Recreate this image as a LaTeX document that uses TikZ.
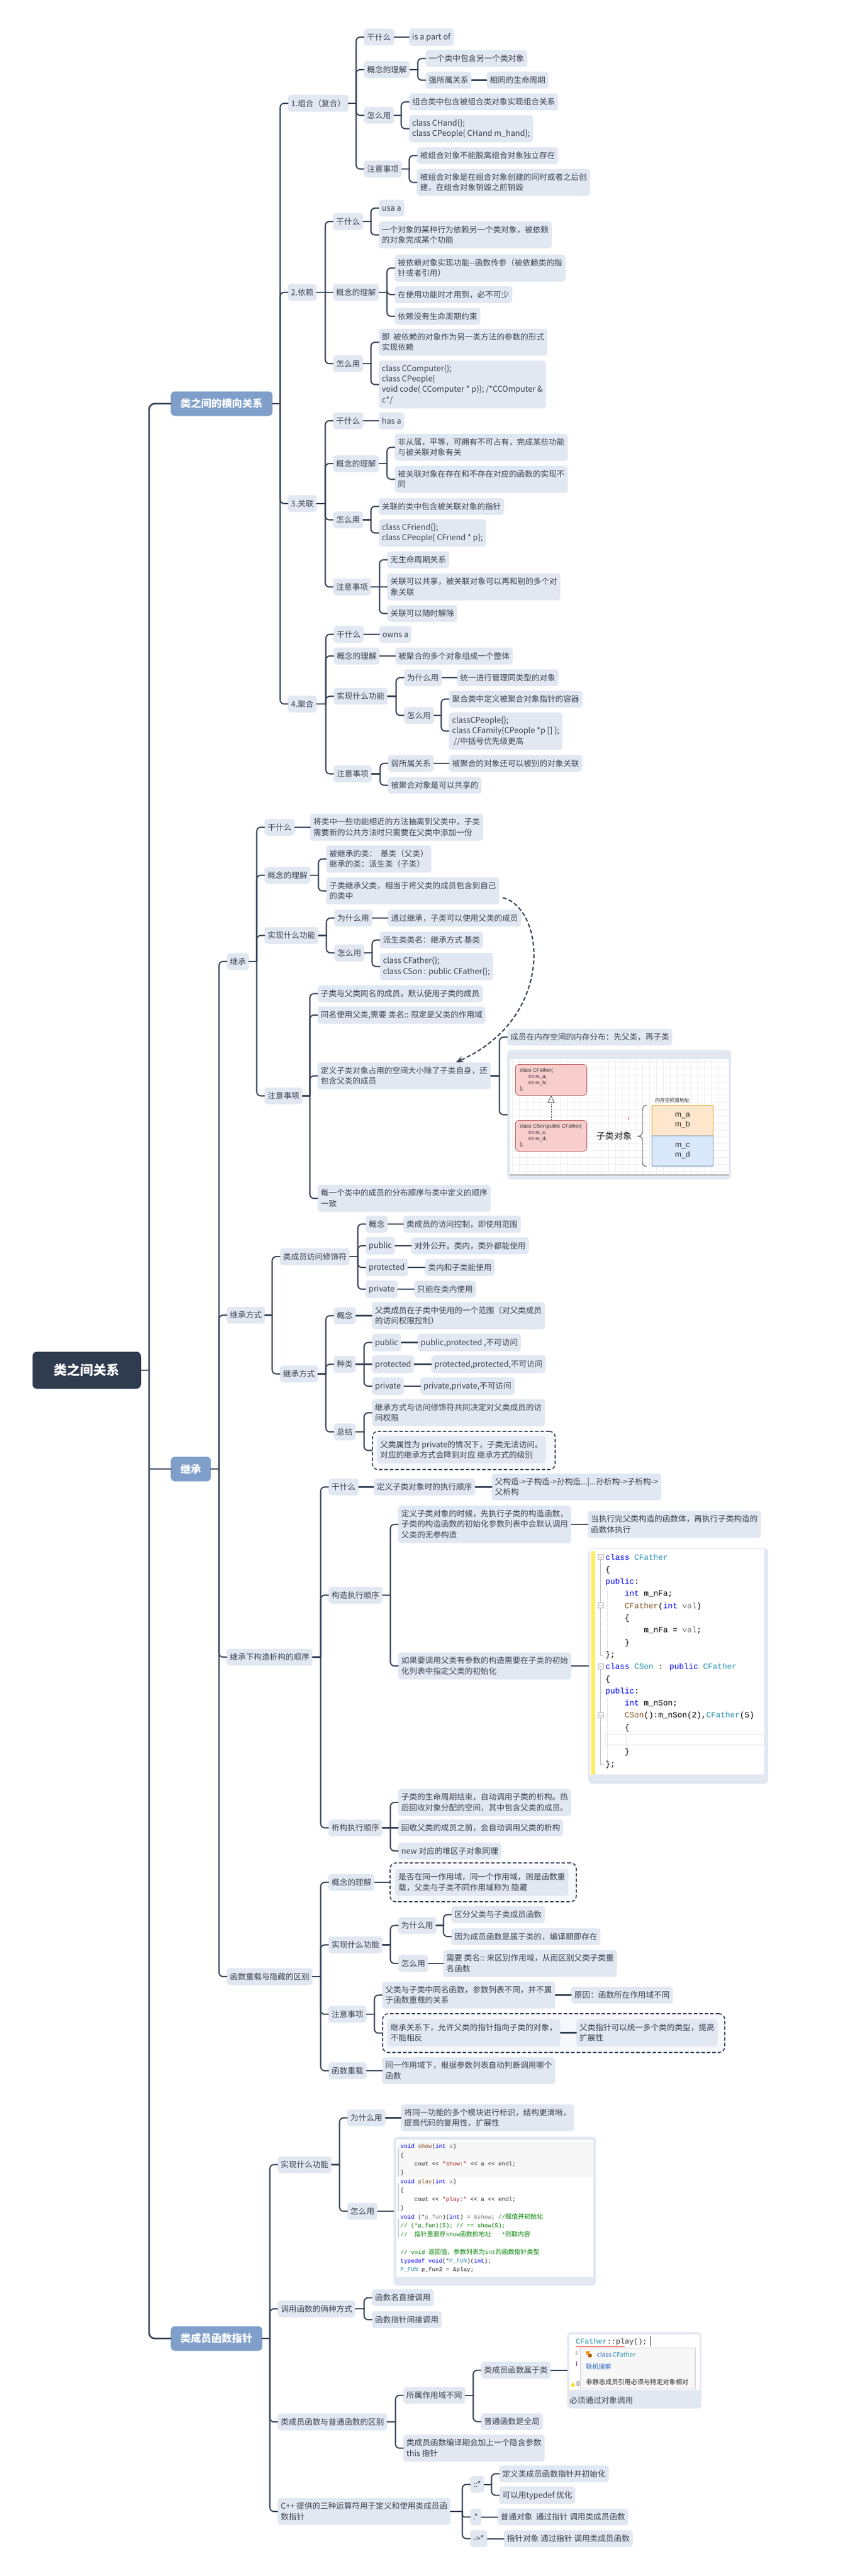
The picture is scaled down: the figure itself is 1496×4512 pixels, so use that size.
\documentclass[tikz,border=0pt]{standalone}
\usepackage{fontspec}
\setmainfont{Noto Sans CJK SC}
\newfontfamily\monof{Liberation Mono}
\newfontfamily\lsans{Liberation Sans}
\newfontfamily\cjk{Noto Sans CJK SC}
\usetikzlibrary{calc,arrows.meta,decorations.pathmorphing}
\definecolor{nodefill}{HTML}{E2E8F1}
\definecolor{mainfill}{HTML}{7F9FCA}
\definecolor{rootfill}{HTML}{2F3B4F}
\definecolor{linec}{HTML}{354256}
\definecolor{txt}{HTML}{3A4152}
\definecolor{dfill}{HTML}{F6F8FB}
\definecolor{kwc}{HTML}{0000FF}
\definecolor{tyc}{HTML}{2B91AF}
\definecolor{fnc}{HTML}{8A5A2B}
\definecolor{pac}{HTML}{808080}
\definecolor{stc}{HTML}{A31515}
\definecolor{cmc}{HTML}{008000}
\definecolor{redf}{HTML}{F8CECC}
\definecolor{redb}{HTML}{B85450}
\definecolor{orangef}{HTML}{FFE6CC}
\definecolor{orangeb}{HTML}{D79B00}
\definecolor{bluef}{HTML}{DAE8FC}
\definecolor{blueb}{HTML}{6C8EBF}
\definecolor{popblue}{HTML}{1F5FBF}
\definecolor{codeyellow}{HTML}{FFEF5C}
\definecolor{gridc}{HTML}{EDEDED}
\newcommand\fnode{\fontsize{13.9}{18.3}\selectfont}
\newcommand\fmain{\fontsize{18}{22}\selectfont\bfseries}
\newcommand\froot{\fontsize{23}{28}\selectfont\bfseries}
\newcommand\mystrut{\rule[-1.9pt]{0pt}{14.1pt}}
\newcommand\ckw[1]{\textcolor{kwc}{#1}}
\newcommand\cty[1]{\textcolor{tyc}{#1}}
\newcommand\cfn[1]{\textcolor{fnc}{#1}}
\newcommand\cpa[1]{\textcolor{pac}{#1}}
\newcommand\cst[1]{\textcolor{stc}{#1}}
\newcommand\ccm[1]{\textcolor{cmc}{#1}}
\newcommand\cjkc[1]{{\cjk\fontsize{11}{14}\selectfont #1}}
\newcommand\tbr[3][13.5]{%
  \path (#3.west) ++(-#1,0) coordinate (tT);
  \draw[conn] (#2.east) -- (#2.east -| tT);
  \draw[conn, rounded corners=7pt] (#2.east -| tT) |- (#3.west);}
\newcommand\tbrx[2]{%
  \path (#2.west) ++(-13.5,0) coordinate (tT);
  \draw[conn] (#1.east) -- (#1.east -| tT);
  \draw[conn, rounded corners=3pt] (#1.east -| tT) |- (#2.west);}
\newcommand\tbrs[2]{\draw[conn] (#1.east) -- (#2.west);}
\tikzset{
  nd/.style={fill=nodefill, rounded corners=5pt, text=txt, font=\fnode, inner xsep=5.5pt, inner ysep=7.7pt, align=left, anchor=west, execute at begin node=\mystrut, execute at end node=\mystrut},
  mn/.style={fill=mainfill, rounded corners=7pt, text=white, font=\fmain, inner xsep=17pt, inner ysep=0pt, minimum height=43pt, anchor=west},
  rt/.style={fill=rootfill, rounded corners=8pt, text=white, font=\froot, minimum width=190pt, minimum height=65pt, anchor=east},
  cont/.style={fill=nodefill, rounded corners=7pt, inner sep=0pt, anchor=west},
  conn/.style={draw=linec, line width=2.1pt, line cap=round},
  mconn/.style={draw=linec, line width=2.8pt, line cap=round},
  dbox/.style={draw=linec, dash pattern=on 6pt off 3.5pt, line width=1.8pt, fill=dfill, rounded corners=10pt, anchor=west, inner sep=0pt},
  cA/.style={font=\monof\fontsize{14}{17}\selectfont, anchor=base west, inner sep=0pt, text=black},
  cB/.style={font=\monof\fontsize{10.2}{12}\selectfont, anchor=base west, inner sep=0pt, text=black!85},
  darr/.style={draw=linec, line width=2.2pt, dash pattern=on 7pt off 4pt, -{Stealth[length=13pt,width=11pt]}},
  drawio/.style={rounded corners=6pt, line width=0.8pt, text width=109pt, align=left, inner xsep=8pt, inner ysep=0pt, minimum height=54pt, font=\lsans\fontsize{8.8}{10.7}\selectfont, text=black!85, anchor=north west},
  membox/.style={line width=0.8pt, minimum width=107pt, minimum height=53pt, anchor=north west, inner sep=0pt, align=center, font=\lsans\fontsize{13.5}{17}\selectfont, text=black!85},
  ptxt/.style={anchor=west, inner sep=0pt, font=\fontsize{11}{13}\selectfont},
}
\begin{document}
\begin{tikzpicture}[x=1pt,y=-1pt]
\useasboundingbox (0,0) rectangle (1496,4512);
\fill[white] (0,0) rectangle (1496,4512);

% ---------- root and main nodes
\node[rt] (r) at (247,2400) {类之间关系};
\node[mn] (m1) at (299,707) {类之间的横向关系};
\node[mn] (m2) at (299,2573) {继承};
\node[mn] (m3) at (299,4096) {类成员函数指针};

% ---------- 类之间的横向关系
\node[nd] (a1) at (504,181) {1.组合（复合）};
\node[nd] (a2) at (504,512) {2.依赖};
\node[nd] (a3) at (504,882) {3.关联};
\node[nd] (a4) at (504,1233) {4.聚合};

\node[nd] (a1a) at (637,65) {干什么};
\node[nd] (a1a1) at (716,65) {is a part of};
\node[nd] (a1b) at (637,122) {概念的理解};
\node[nd] (a1b1) at (745,102.5) {一个类中包含另一个类对象};
\node[nd] (a1b2) at (745,140.5) {强所属关系};
\node[nd] (a1b2a) at (852,140.5) {相同的生命周期};
\node[nd] (a1c) at (637,202) {怎么用};
\node[nd] (a1c1) at (716,178.5) {组合类中包含被组合类对象实现组合关系};
\node[nd] (a1c2) at (716,225.5) {class CHand\{\};\\class CPeople\{ CHand m\_hand\};};
\node[nd] (a1d) at (637,296) {注意事项};
\node[nd] (a1d1) at (730,272.5) {被组合对象不能脱离组合对象独立存在};
\node[nd] (a1d2) at (730,319.5) {被组合对象是在组合对象创建的同时或者之后创\\建，在组合对象销毁之前销毁};

\node[nd] (a2a) at (583,388) {干什么};
\node[nd] (a2a1) at (663,364.5) {usa a};
\node[nd] (a2a2) at (663,411.5) {一个对象的某种行为依赖另一个类对象，被依赖\\的对象完成某个功能};
\node[nd] (a2b) at (583,512) {概念的理解};
\node[nd] (a2b1) at (691,469.5) {被依赖对象实现功能-{}-函数传参（被依赖类的指\\针或者引用）};
\node[nd] (a2b2) at (691,516) {在使用功能时才用到，必不可少};
\node[nd] (a2b3) at (691,554) {依赖没有生命周期约束};
\node[nd] (a2c) at (583,637) {怎么用};
\node[nd] (a2c1) at (663,599.5) {即\ \ 被依赖的对象作为另一类方法的参数的形式\\实现依赖};
\node[nd] (a2c2) at (663,673.5) {class CComputer\{\};\\class CPeople\{\\void code( CComputer * p)\}; /*CCOmputer \&\\c*/};

\node[nd] (a3a) at (583,737) {干什么};
\node[nd] (a3a1) at (663,737) {has a};
\node[nd] (a3b) at (583,812) {概念的理解};
\node[nd] (a3b1) at (691,783.5) {非从属，平等，可拥有不可占有，完成某些功能\\与被关联对象有关};
\node[nd] (a3b2) at (691,839.5) {被关联对象在存在和不存在对应的函数的实现不\\同};
\node[nd] (a3c) at (583,910.5) {怎么用};
\node[nd] (a3c1) at (663,887) {关联的类中包含被关联对象的指针};
\node[nd] (a3c2) at (663,933.5) {class CFriend\{\};\\class CPeople\{ CFriend * p\};};
\node[nd] (a3d) at (583,1028) {注意事项};
\node[nd] (a3d1) at (678,980.5) {无生命周期关系};
\node[nd] (a3d2) at (678,1028) {关联可以共享，被关联对象可以再和别的多个对\\象关联};
\node[nd] (a3d3) at (678,1074.5) {关联可以随时解除};

\node[nd] (a4a) at (584,1111) {干什么};
\node[nd] (a4a1) at (664,1111) {owns a};
\node[nd] (a4b) at (584,1149) {概念的理解};
\node[nd] (a4b1) at (692,1149) {被聚合的多个对象组成一个整体};
\node[nd] (a4c) at (584,1219.5) {实现什么功能};
\node[nd] (a4c1) at (707,1187) {为什么用};
\node[nd] (a4c1a) at (800,1187) {统一进行管理同类型的对象};
\node[nd] (a4c2) at (707,1253) {怎么用};
\node[nd] (a4c2a) at (786,1224.5) {聚合类中定义被聚合对象指针的容器};
\node[nd] (a4c2b) at (786,1280.5) {classCPeople\{\};\\class CFamily\{CPeople *p [] \};\\\hspace*{3pt}//中括号优先级更高};
\node[nd] (a4d) at (584,1355.5) {注意事项};
\node[nd] (a4d1) at (679,1337) {弱所属关系};
\node[nd] (a4d1a) at (786,1337) {被聚合的对象还可以被别的对象关联};
\node[nd] (a4d2) at (679,1375.5) {被聚合对象是可以共享的};

% ---------- 继承
\node[nd] (b1) at (397,1684) {继承};
\node[nd] (b2) at (397,2303.5) {继承方式};
\node[nd] (b3) at (397,2902.5) {继承下构造析构的顺序};
\node[nd] (b4) at (397,3462) {函数重载与隐藏的区别};

\node[nd] (b1a) at (463,1449) {干什么};
\node[nd] (b1a1) at (543,1449) {将类中一些功能相近的方法抽离到父类中，子类\\需要新的公共方法时只需要在父类中添加一份};
\node[nd] (b1b) at (463,1533) {概念的理解};
\node[nd] (b1b1) at (571,1504.5) {被继承的类：\ \ 基类（父类）\\继承的类：派生类（子类）};
\node[nd] (b1b2) at (571,1560.5) {子类继承父类，相当于将父类的成员包含到自己\\的类中};
\node[nd] (b1c) at (463,1638.5) {实现什么功能};
\node[nd] (b1c1) at (585,1608) {为什么用};
\node[nd] (b1c1a) at (679,1608) {通过继承，子类可以使用父类的成员};
\node[nd] (b1c2) at (585,1669) {怎么用};
\node[nd] (b1c2a) at (665,1646.5) {派生类类名：继承方式 基类};
\node[nd] (b1c2b) at (665,1693) {class CFather\{\};\\class CSon : public CFather\{\};};
\node[nd] (b1d) at (463,1919.5) {注意事项};
\node[nd] (b1d1) at (556,1740.5) {子类与父类同名的成员，默认使用子类的成员};
\node[nd] (b1d2) at (556,1778) {同名使用父类,需要 类名:: 限定是父类的作用域};
\node[nd] (b1d3) at (556,1884.5) {定义子类对象占用的空间大小除了子类自身，还\\包含父类的成员};
\node[nd] (b1d4) at (556,2099) {每一个类中的成员的分布顺序与类中定义的顺序\\一致};
\node[nd] (b1d3a) at (888,1816.5) {成员在内存空间的内存分布：先父类，再子类};
\node[cont, minimum width=392pt, minimum height=227pt] (img) at (888,1952.5) {};

\node[nd] (b2a) at (490,2201) {类成员访问修饰符};
\node[nd] (b2a1) at (640,2144) {概念};
\node[nd] (b2a1a) at (706,2144) {类成员的访问控制，即使用范围};
\node[nd] (b2a2) at (640,2182) {public};
\node[nd] (b2a2a) at (720,2182) {对外公开。类内，类外都能使用};
\node[nd] (b2a3) at (640,2220) {protected};
\node[nd] (b2a3a) at (744,2220) {类内和子类能使用};
\node[nd] (b2a4) at (640,2258) {private};
\node[nd] (b2a4a) at (725,2258) {只能在类内使用};
\node[nd] (b2b) at (490,2406.5) {继承方式};
\node[nd] (b2b1) at (584,2304.5) {概念};
\node[nd] (b2b1a) at (651,2304.5) {父类成员在子类中使用的一个范围（对父类成员\\的访问权限控制）};
\node[nd] (b2b2) at (584,2389.5) {种类};
\node[nd] (b2b2a) at (651,2351.5) {public};
\node[nd] (b2b2a1) at (731,2351.5) {public,protected ,不可访问};
\node[nd] (b2b2b) at (651,2389.5) {protected};
\node[nd] (b2b2b1) at (755,2389.5) {protected,protected,不可访问};
\node[nd] (b2b2c) at (651,2428) {private};
\node[nd] (b2b2c1) at (736,2428) {private,private,不可访问};
\node[nd] (b2b3) at (584,2508) {总结};
\node[nd] (b2b3a) at (651,2474.5) {继承方式与访问修饰符共同决定对父类成员的访\\问权限};
\node[dbox, minimum width=320pt, minimum height=67pt] (b2b3d) at (651,2540.5) {};
\node[nd] (b2b3b) at (660,2539.5) {父类属性为 private的情况下，子类无法访问。\\对应的继承方式会降到对应 继承方式的级别};

\node[nd] (b3a) at (575,2604.5) {干什么};
\node[nd] (b3a1) at (654,2604.5) {定义子类对象时的执行顺序};
\node[nd] (b3a2) at (861,2604.5) {父构造->子构造->孙构造...|...孙析构->子析构->\\父析构};
\node[nd] (b3b) at (575,2794) {构造执行顺序};
\node[nd] (b3b1) at (697,2670) {定义子类对象的时候，先执行子类的构造函数，\\子类的构造函数的初始化参数列表中会默认调用\\父类的无参构造};
\node[nd] (b3b1a) at (1029,2670) {当执行完父类构造的函数体，再执行子类构造的\\函数体执行};
\node[nd] (b3b2) at (697,2918) {如果要调用父类有参数的构造需要在子类的初始\\化列表中指定父类的初始化};
\node[cont, minimum width=315pt, minimum height=413pt] (code1) at (1030,2918) {};
\node[nd] (b3c) at (575,3201.5) {析构执行顺序};
\node[nd] (b3c1) at (697,3157) {子类的生命周期结束，自动调用子类的析构。热\\后回收对象分配的空间，其中包含父类的成员。};
\node[nd] (b3c2) at (697,3201.5) {回收父类的成员之前，会自动调用父类的析构};
\node[nd] (b3c3) at (697,3242) {new 对应的堆区子对象同理};

\node[nd] (b4a) at (575,3297) {概念的理解};
\node[dbox, minimum width=326pt, minimum height=68pt] (b4ad) at (682,3297) {};
\node[nd] (b4a1) at (692,3297) {是否在同一作用域，同一个作用域，则是函数重\\载，父类与子类不同作用域称为 隐藏};
\node[nd] (b4b) at (575,3406.5) {实现什么功能};
\node[nd] (b4b1) at (697,3372.5) {为什么用};
\node[nd] (b4b1a) at (790,3353.5) {区分父类与子类成员函数};
\node[nd] (b4b1b) at (790,3392) {因为成员函数是属于类的，编译期即存在};
\node[nd] (b4b2) at (697,3439) {怎么用};
\node[nd] (b4b2a) at (776,3439) {需要 类名:: 来区别作用域，从而区别父类子类重\\名函数};
\node[nd] (b4c) at (575,3528) {注意事项};
\node[nd] (b4c1) at (669,3494.5) {父类与子类中同名函数，参数列表不同，并不属\\于函数重载的关系};
\node[nd] (b4c1a) at (1000,3494.5) {原因：函数所在作用域不同};
\node[dbox, minimum width=599pt, minimum height=68pt] (b4cd) at (669,3561) {};
\node[nd] (b4c2) at (678,3560.5) {继承关系下，允许父类的指针指向子类的对象，\\不能相反};
\node[nd] (b4c2a) at (1009,3560.5) {父类指针可以统一多个类的类型，提高\\扩展性};
\node[nd] (b4d) at (575,3627) {函数重载};
\node[nd] (b4d1) at (669,3627) {同一作用域下，根据参数列表自动判断调用哪个\\函数};

% ---------- 类成员函数指针
\node[nd] (c1) at (486,3791.5) {实现什么功能};
\node[nd] (c1a) at (608,3709.5) {为什么用};
\node[nd] (c1a1) at (702,3709.5) {将同一功能的多个模块进行标识，结构更清晰，\\提高代码的复用性，扩展性};
\node[nd] (c1b) at (608,3873) {怎么用};
\node[cont, minimum width=354pt, minimum height=261pt] (code2) at (689,3873) {};
\node[nd] (c2) at (486,4044) {调用函数的俩种方式};
\node[nd] (c2a) at (651,4024.5) {函数名直接调用};
\node[nd] (c2b) at (651,4063) {函数指针间接调用};
\node[nd] (c3) at (486,4242) {类成员函数与普通函数的区别};
\node[nd] (c3a) at (706,4195.5) {所属作用域不同};
\node[nd] (c3a1) at (842,4151.5) {类成员函数属于类};
\node[cont, minimum width=235pt, minimum height=134pt] (pop) at (993,4151.5) {};
\node[nd] (c3a2) at (842,4241.5) {普通函数是全局};
\node[nd] (c3b) at (706,4288) {类成员函数编译期会加上一个隐含参数\\this 指针};
\node[nd] (c4) at (486,4399) {C++ 提供的三种运算符用于定义和使用类成员函\\数指针};
\node[nd] (c4a) at (823,4351.5) {::*};
\node[nd] (c4a1) at (874,4333) {定义类成员函数指针并初始化};
\node[nd] (c4a2) at (874,4370.5) {可以用typedef 优化};
\node[nd] (c4b) at (823,4408.5) {.*};
\node[nd] (c4b1) at (871,4408.5) {普通对象\ \ 通过指针 调用类成员函数};
\node[nd] (c4c) at (823,4446.5) {->*};
\node[nd] (c4c1) at (882,4446.5) {指针对象 通过指针 调用类成员函数};

% ---------- main connectors
\draw[mconn] (r.east) -- (261,2400);
\draw[mconn, rounded corners=10pt] (261,2400) |- (m1.west);
\draw[mconn] (261,2400) |- (m2.west);
\draw[mconn, rounded corners=10pt] (261,2400) |- (m3.west);

% ---------- branch connectors
\tbr{m1}{a1}\tbr{m1}{a2}\tbr{m1}{a3}\tbr{m1}{a4}
\tbr{a1}{a1a}\tbrs{a1a}{a1a1}\tbr{a1}{a1b}\tbr{a1b}{a1b1}\tbr{a1b}{a1b2}\tbrs{a1b2}{a1b2a}
\tbr{a1}{a1c}\tbr{a1c}{a1c1}\tbr{a1c}{a1c2}\tbr{a1}{a1d}\tbr{a1d}{a1d1}\tbr{a1d}{a1d2}
\tbr{a2}{a2a}\tbr{a2a}{a2a1}\tbr{a2a}{a2a2}\tbrs{a2}{a2b}\tbr{a2b}{a2b1}\tbr{a2b}{a2b2}\tbr{a2b}{a2b3}
\tbr{a2}{a2c}\tbr{a2c}{a2c1}\tbr{a2c}{a2c2}
\tbr{a3}{a3a}\tbrs{a3a}{a3a1}\tbr{a3}{a3b}\tbr{a3b}{a3b1}\tbr{a3b}{a3b2}\tbr{a3}{a3c}\tbr{a3c}{a3c1}\tbr{a3c}{a3c2}
\tbr{a3}{a3d}\tbr{a3d}{a3d1}\tbrs{a3d}{a3d2}\tbr{a3d}{a3d3}
\tbr{a4}{a4a}\tbrs{a4a}{a4a1}\tbr{a4}{a4b}\tbrs{a4b}{a4b1}\tbr{a4}{a4c}\tbr{a4c}{a4c1}\tbrs{a4c1}{a4c1a}
\tbr{a4c}{a4c2}\tbr{a4c2}{a4c2a}\tbr{a4c2}{a4c2b}\tbr{a4}{a4d}\tbr{a4d}{a4d1}\tbrs{a4d1}{a4d1a}\tbr{a4d}{a4d2}

\tbr{m2}{b1}\tbr{m2}{b2}\tbr{m2}{b3}\tbr{m2}{b4}
\tbr{b1}{b1a}\tbrs{b1a}{b1a1}\tbr{b1}{b1b}\tbr{b1b}{b1b1}\tbr{b1b}{b1b2}
\tbr{b1}{b1c}\tbr{b1c}{b1c1}\tbrs{b1c1}{b1c1a}\tbr{b1c}{b1c2}\tbr{b1c2}{b1c2a}\tbr{b1c2}{b1c2b}
\tbr{b1}{b1d}\tbr{b1d}{b1d1}\tbr{b1d}{b1d2}\tbr{b1d}{b1d3}\tbr{b1d}{b1d4}\tbr{b1d3}{b1d3a}\tbr{b1d3}{img}
\tbr{b2}{b2a}\tbr{b2a}{b2a1}\tbrs{b2a1}{b2a1a}\tbr{b2a}{b2a2}\tbrs{b2a2}{b2a2a}\tbr{b2a}{b2a3}\tbrs{b2a3}{b2a3a}\tbr{b2a}{b2a4}\tbrs{b2a4}{b2a4a}
\tbr{b2}{b2b}\tbr{b2b}{b2b1}\tbrs{b2b1}{b2b1a}\tbr{b2b}{b2b2}\tbr{b2b2}{b2b2a}\tbrs{b2b2a}{b2b2a1}\tbrs{b2b2}{b2b2b}\tbrs{b2b2b}{b2b2b1}\tbr{b2b2}{b2b2c}\tbrs{b2b2c}{b2b2c1}
\tbr{b2b}{b2b3}\tbr{b2b3}{b2b3a}\tbr{b2b3}{b2b3d}
\tbr{b3}{b3a}\tbrs{b3a}{b3a1}\tbrs{b3a1}{b3a2}\tbr{b3}{b3b}\tbr{b3b}{b3b1}\tbrs{b3b1}{b3b1a}\tbr{b3b}{b3b2}\tbrs{b3b2}{code1}
\tbr{b3}{b3c}\tbr{b3c}{b3c1}\tbrs{b3c}{b3c2}\tbr{b3c}{b3c3}
\tbr{b4}{b4a}\tbrs{b4a}{b4ad}\tbr{b4}{b4b}\tbr{b4b}{b4b1}\tbr{b4b1}{b4b1a}\tbr{b4b1}{b4b1b}\tbr{b4b}{b4b2}\tbrs{b4b2}{b4b2a}
\tbr{b4}{b4c}\tbr{b4c}{b4c1}\tbrs{b4c1}{b4c1a}\tbr{b4c}{b4cd}\tbrs{b4c2}{b4c2a}\tbr{b4}{b4d}\tbrs{b4d}{b4d1}

\tbr{m3}{c1}\tbr{m3}{c2}\tbr{m3}{c3}\tbr{m3}{c4}
\tbr{c1}{c1a}\tbrs{c1a}{c1a1}\tbr{c1}{c1b}\tbrs{c1b}{code2}
\tbr{c2}{c2a}\tbr{c2}{c2b}
\tbr{c3}{c3a}\tbr{c3a}{c3a1}\tbrs{c3a1}{pop}\tbr{c3a}{c3a2}\tbr{c3}{c3b}
\tbr{c4}{c4a}\tbr{c4a}{c4a1}\tbr{c4a}{c4a2}\tbrx{c4}{c4b}\tbrs{c4b}{c4b1}\tbr{c4}{c4c}\tbrs{c4c}{c4c1}

% dashed cross-link arrow
\draw[darr] ($(b1b2.south east)+(6,-12)$) .. controls +(74,18) and +(175,-78) .. ($(b1d3.north east)+(-61,0)$);

% ---------- embedded draw.io image
\fill[white] (893,1855) rectangle (1276,2058);
\foreach \gx in {897,909,...,1273} \draw[gridc, line width=0.5pt] (\gx,1855) -- (\gx,2058);
\foreach \gy in {1859,1871,...,2057} \draw[gridc, line width=0.5pt] (893,\gy) -- (1276,\gy);
\draw[gray!70, line width=1.2pt] (893,2058) -- (1276,2058);
\node[drawio, fill=redf, draw=redb] (cfa) at (902,1864) {class CFather\{\\\hspace*{15pt}int m\_a;\\\hspace*{15pt}int m\_b;\\\};};
\node[drawio, fill=redf, draw=redb] (cson) at (902,1962) {class CSon:public CFather\{\\\hspace*{15pt}int m\_c;\\\hspace*{15pt}int m\_d;\\\};};
\draw[black!75, line width=0.8pt, dash pattern=on 2.5pt off 2pt, -{Triangle[open,length=13pt,width=12pt]}] (cson.north) -- (cfa.south);
\node[font=\cjk\fontsize{15.5}{18}\selectfont, text=black!85, inner sep=0pt] (zlx) at (1075,1990) {子类对象};
\draw[black!75, line width=0.9pt] (1133,1936) .. controls (1126,1936) and (1125,1939) .. (1125,1946) -- (1125,1981) .. controls (1125,1987) and (1122,1990) .. (1117,1990) .. controls (1122,1990) and (1125,1993) .. (1125,1999) -- (1125,2034) .. controls (1125,2041) and (1126,2043) .. (1133,2043);
\node[font=\cjk\fontsize{8.6}{10}\selectfont, text=black!85, inner sep=0pt] (addr) at (1177,1927) {内存空间首地址};
\node[membox, draw=orangeb, fill=orangef] (mab) at (1141,1936) {m\_a\\m\_b};
\node[membox, draw=blueb, fill=bluef] (mcd) at (1141,1989) {m\_c\\m\_d};
\fill[red] (1099.5,1957) rectangle (1101,1961);

% ---------- code block 1
\fill[white] (1033,2713) rectangle (1338,3108);
\fill[codeyellow] (1035,2717) rectangle (1042,3108);
\draw[gray!25, fill=white] (1059,3037) rectangle (1338,3056);
\draw[gray!55, line width=0.6pt] (1051.5,2731.5) -- (1051.5,2899) -- (1056,2899);
\draw[gray!55, line width=0.6pt] (1051.5,2923.2) -- (1051.5,3090) -- (1056,3090);
\draw[gray!40, line width=0.6pt, dash pattern=on 2pt off 2pt] (1063,2785) -- (1063,2892);
\draw[gray!40, line width=0.6pt, dash pattern=on 2pt off 2pt] (1097,2848) -- (1097,2870);
\draw[gray!40, line width=0.6pt, dash pattern=on 2pt off 2pt] (1063,2976) -- (1063,3083);
\draw[gray!40, line width=0.6pt, dash pattern=on 2pt off 2pt] (1097,3040) -- (1097,3062);
\foreach \fy in {2727,2812.2,2918.7,3003.9} {
  \draw[gray!60, fill=white, line width=0.6pt] (1047,\fy-4.5) rectangle (1056,\fy+4.5);
  \draw[gray!70, line width=0.6pt] (1049,\fy) -- (1054,\fy);
}
\node[cA] (k1) at (1060,2732) {\ckw{class} \cty{CFather}};
\node[cA] (k2) at (1060,2753.3) {\{};
\node[cA] (k3) at (1060,2774.6) {\ckw{public}:};
\node[cA] (k4) at (1060,2795.9) {\hphantom{0000}\ckw{int} m\_nFa;};
\node[cA] (k5) at (1060,2817.2) {\hphantom{0000}\cfn{CFather}(\ckw{int} \cpa{val})};
\node[cA] (k6) at (1060,2838.5) {\hphantom{0000}\{};
\node[cA] (k7) at (1060,2859.8) {\hphantom{00000000}m\_nFa = \cpa{val};};
\node[cA] (k8) at (1060,2881.1) {\hphantom{0000}\}};
\node[cA] (k9) at (1060,2902.4) {\};};
\node[cA] (k10) at (1060,2923.7) {\ckw{class} \cty{CSon} : \ckw{public} \cty{CFather}};
\node[cA] (k11) at (1060,2945) {\{};
\node[cA] (k12) at (1060,2966.3) {\ckw{public}:};
\node[cA] (k13) at (1060,2987.6) {\hphantom{0000}\ckw{int} m\_nSon;};
\node[cA] (k14) at (1060,3008.9) {\hphantom{0000}\cfn{CSon}():m\_nSon(2),\cty{CFather}(5)};
\node[cA] (k15) at (1060,3030.2) {\hphantom{0000}\{};
\node[cA] (k17) at (1060,3072.8) {\hphantom{0000}\}};
\node[cA] (k18) at (1060,3094.1) {\};};

% ---------- code block 2
\fill[white] (694,3748) rectangle (1039,3988);
\fill[gray!6] (696,3752) rectangle (1039,3813);
\draw[gray!55, line width=0.5pt] (697.5,3762) -- (697.5,3812);
\draw[gray!55, line width=0.5pt] (697.5,3824) -- (697.5,3873);
\draw[gray!55, line width=0.5pt] (697.5,3886) -- (697.5,3920);
\node[cB] (q1) at (701,3762.6) {\ckw{void} \cfn{show}(\ckw{int} \cpa{a})};
\node[cB] (q2) at (701,3778.05) {\{};
\node[cB] (q3) at (701,3793.5) {\hphantom{0000}cout <{}< \cst{"show:"} <{}< a <{}< endl;};
\node[cB] (q4) at (701,3808.95) {\}};
\node[cB] (q5) at (701,3824.4) {\ckw{void} \cfn{play}(\ckw{int} \cpa{a})};
\node[cB] (q6) at (701,3839.85) {\{};
\node[cB] (q7) at (701,3855.3) {\hphantom{0000}cout <{}< \cst{"play:"} <{}< a <{}< endl;};
\node[cB] (q8) at (701,3870.75) {\}};
\node[cB] (q9) at (701,3886.2) {\ckw{void} (*\cpa{p\_fun})(\ckw{int}) = \cpa{\&show}; \ccm{//\cjkc{赋值并初始化}}};
\node[cB] (q10) at (701,3901.65) {\ccm{// (*p\_fun)(5); // == show(5);}};
\node[cB] (q11) at (701,3917.1) {\ccm{//\ \ \cjkc{指针里面存}show\cjkc{函数的地址}\ \ \ *\cjkc{则取内容}}};
\node[cB] (q13) at (701,3948) {\ccm{// void \cjkc{返回值，参数列表为}int\cjkc{的函数指针类型}}};
\node[cB] (q14) at (701,3963.45) {\ckw{typedef} \ckw{void}(*\cty{P\_FUN})(\ckw{int});};
\node[cB] (q15) at (701,3978.9) {\cty{P\_FUN} p\_fun2 = \&play;};

% ---------- popup screenshot
\fill[white] (997,4089) rectangle (1225,4186);
\node[font=\monof\fontsize{13}{15}\selectfont, anchor=base west, inner sep=0pt, text=black!80] (pp1) at (1008,4105) {\cty{CFather}::play();};
\draw[red, line width=0.6pt, decorate, decoration={snake, amplitude=0.9pt, segment length=3pt}] (1008,4110) -- (1094,4110);
\draw[black, line width=0.8pt] (1139,4092) -- (1139,4109);
\draw[gray!40, fill=gray!6] (1016,4112) rectangle (1217,4184);
\fill[orange!85!yellow] (1026,4118) rectangle (1032,4124);
\fill[orange!70!black] (1030,4123) rectangle (1036,4129);
\node[ptxt] (pp2) at (1045,4124) {\textcolor{popblue}{class} \textcolor{tyc}{CFather}};
\node[ptxt, text=popblue] (pp3) at (1026,4145) {联机搜索};
\node[ptxt, text=black!85, font=\fontsize{11.2}{13}\selectfont] (pp4) at (1026,4172) {非静态成员引用必须与特定对象相对};
\node[ptxt, text=gray] (pp5) at (1007,4121) {s};
\node[ptxt, text=violet] (pp7) at (1008,4140) {I};
\fill[yellow!80!orange] (999,4180) -- (1003,4172) -- (1007,4180) -- cycle;
\node[ptxt, text=black!70] (pp8) at (1009,4176) {0};
\node[anchor=west, inner sep=0pt, font=\fnode, text=txt] (pp6) at (997,4204) {必须通过对象调用};
\end{tikzpicture}
\end{document}
